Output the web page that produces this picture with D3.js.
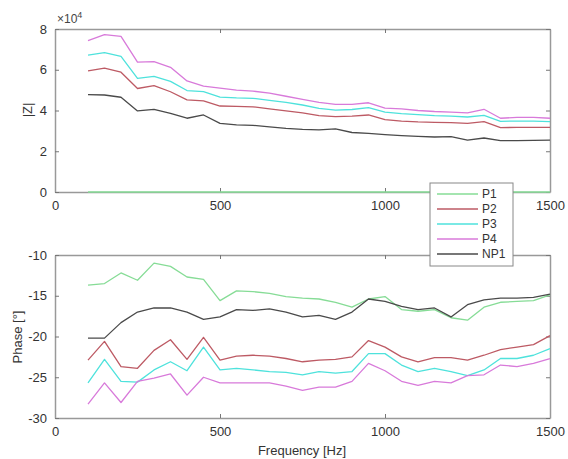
<!DOCTYPE html>
<html lang="en">
<head>
<meta charset="UTF-8">
<title>Impedance and phase</title>
<script src="https://d3js.org/d3.v7.min.js"></script>
<style>
  html, body { margin: 0; padding: 0; background: #fff; }
  svg { display: block; font-family: "Liberation Sans", Arial, sans-serif; }
</style>
</head>
<body>
<svg id="chart" width="568" height="459"></svg>
<script>
// frequency samples [Hz]
const freq = [100,150,200,250,300,350,400,450,500,550,600,650,700,750,800,850,900,950,1000,1050,1100,1150,1200,1250,1300,1350,1400,1450,1500];

// |Z| in units of 1e4
const zP1 = [0,0,0,0,0,0,0,0,0,0,0,0,0,0,0,0,0,0,0,0,0,0,0,0,0,0,0,0,0];
const zP2 = [5.94,6.08,5.88,5.08,5.22,4.92,4.52,4.47,4.22,4.2,4.18,4.08,3.98,3.88,3.75,3.7,3.72,3.78,3.55,3.48,3.44,3.42,3.4,3.37,3.45,3.16,3.17,3.17,3.17];
const zP3 = [6.72,6.84,6.66,5.58,5.67,5.43,4.98,4.93,4.66,4.62,4.6,4.5,4.4,4.27,4.1,4.02,4.05,4.14,3.92,3.85,3.8,3.75,3.72,3.68,3.76,3.47,3.48,3.48,3.45];
const zP4 = [7.43,7.72,7.64,6.37,6.4,6.12,5.45,5.2,5.1,5.0,4.95,4.85,4.7,4.55,4.4,4.3,4.3,4.38,4.12,4.08,4.0,3.95,3.92,3.88,4.06,3.62,3.66,3.66,3.62];
const zNP1 = [4.78,4.76,4.65,3.98,4.06,3.86,3.62,3.78,3.37,3.29,3.27,3.2,3.12,3.07,3.05,3.1,2.92,2.88,2.82,2.77,2.73,2.7,2.72,2.55,2.65,2.52,2.52,2.53,2.55];

// phase [deg]
const phP1 = [-13.7,-13.5,-12.2,-13.1,-11.0,-11.4,-12.7,-13.0,-15.6,-14.4,-14.5,-14.7,-15.1,-15.3,-15.4,-15.8,-16.4,-15.4,-15.1,-16.7,-16.9,-16.7,-17.7,-18.0,-16.4,-15.8,-15.7,-15.6,-14.9];
const phP2 = [-22.9,-20.6,-23.7,-23.9,-21.7,-20.4,-22.8,-20.1,-22.9,-22.4,-22.3,-22.4,-22.7,-23.1,-22.9,-22.8,-22.5,-20.5,-21.3,-22.5,-23.1,-22.6,-22.6,-22.9,-22.3,-21.6,-21.3,-21.0,-19.9];
const phP3 = [-25.7,-22.8,-25.5,-25.6,-24.1,-23.1,-24.2,-21.3,-24.1,-23.9,-24.1,-24.3,-24.4,-24.7,-24.3,-24.5,-24.3,-22.1,-22.1,-23.5,-24.3,-23.9,-24.3,-24.8,-24.1,-22.7,-22.7,-22.3,-21.5];
const phP4 = [-28.3,-25.7,-28.1,-25.5,-25.1,-24.6,-27.2,-25.0,-25.7,-25.7,-25.7,-25.7,-26.1,-26.6,-26.2,-26.2,-25.5,-23.3,-24.2,-25.5,-26.0,-25.5,-25.7,-24.8,-24.7,-23.5,-23.7,-23.3,-22.7];
const phNP1 = [-20.2,-20.2,-18.3,-17.0,-16.5,-16.5,-17.0,-17.9,-17.6,-16.7,-16.8,-16.6,-17.0,-17.6,-17.4,-17.9,-17.0,-15.4,-15.7,-16.3,-16.7,-16.5,-17.6,-16.1,-15.5,-15.3,-15.3,-15.2,-14.8];

const names = ["P1","P2","P3","P4","NP1"];
const colors = ["#86dc96","#bd5a64","#4ee2dc","#d87ada","#4a4a4a"];
const zSeries = [zP1, zP2, zP3, zP4, zNP1];
const phSeries = [phP1, phP2, phP3, phP4, phNP1];

const xTicks = [0, 500, 1000, 1500];
const zTicks = [0, 2, 4, 6, 8];
const phTicks = [-30, -25, -20, -15, -10];

const svg = d3.select("#chart");
const left = 55, right = 550;
const boxColor = "#999";
const plain = d => String(d); // hyphen minus, no thousands separator

const x = d3.scaleLinear().domain([0, 1500]).range([left, right]);
const yZ = d3.scaleLinear().domain([0, 8]).range([192, 29]);
const yPh = d3.scaleLinear().domain([-30, -10]).range([418, 255]);

function panel(y, yTicks, series) {
  const [bottom, top] = y.range();
  const g = svg.append("g");

  // axes with inward ticks on all sides
  const axB = g.append("g").attr("transform", `translate(0,${bottom})`)
    .call(d3.axisBottom(x).tickValues(xTicks).tickSizeInner(-4).tickSizeOuter(0).tickPadding(9).tickFormat(plain));
  const axT = g.append("g").attr("transform", `translate(0,${top})`)
    .call(d3.axisTop(x).tickValues(xTicks).tickSizeInner(-4).tickSizeOuter(0).tickFormat(""));
  const axL = g.append("g").attr("transform", `translate(${left},0)`)
    .call(d3.axisLeft(y).tickValues(yTicks).tickSizeInner(-4).tickSizeOuter(0).tickPadding(8).tickFormat(plain));
  const axR = g.append("g").attr("transform", `translate(${right},0)`)
    .call(d3.axisRight(y).tickValues(yTicks).tickSizeInner(-4).tickSizeOuter(0).tickFormat(""));
  [axB, axT, axL, axR].forEach(a => {
    a.select(".domain").attr("stroke", boxColor).attr("stroke-width", 1.5);
    a.selectAll(".tick line").attr("stroke", "#777");
    a.selectAll(".tick text").attr("font-size", 13).attr("fill", "#333");
  });

  // lines on top of the box so the P1 trace at |Z|=0 stays visible
  const line = d3.line().x((d, i) => x(freq[i])).y(d => y(d));
  series.forEach((s, k) => {
    g.append("path")
      .datum(s)
      .attr("fill", "none")
      .attr("stroke", colors[k])
      .attr("stroke-width", 1.3)
      .attr("stroke-linejoin", "round")
      .attr("d", line);
  });
  return g;
}

panel(yZ, zTicks, zSeries);
panel(yPh, phTicks, phSeries);

// labels
svg.append("text").attr("transform", "translate(32,110) rotate(-90)")
  .attr("text-anchor", "middle").attr("font-size", 13).attr("fill", "#333").text("|Z|");
svg.append("text").attr("transform", "translate(22,337) rotate(-90)")
  .attr("text-anchor", "middle").attr("font-size", 13).attr("fill", "#333").text("Phase [°]");
svg.append("text").attr("x", 302).attr("y", 455)
  .attr("text-anchor", "middle").attr("font-size", 13).attr("fill", "#333").text("Frequency [Hz]");
const ex = svg.append("text").attr("x", 57).attr("y", 23).attr("font-size", 12).attr("fill", "#444");
ex.append("tspan").text("×10");
ex.append("tspan").attr("dy", -5).attr("font-size", 9).text("4");

// legend
const lg = svg.append("g").attr("transform", "translate(430,183)");
lg.append("rect").attr("width", 83).attr("height", 83)
  .attr("fill", "#fff").attr("stroke", "#888").attr("stroke-width", 1);
names.forEach((n, k) => {
  const yy = 11 + k * 15;
  lg.append("line").attr("x1", 7).attr("x2", 48).attr("y1", yy).attr("y2", yy)
    .attr("stroke", colors[k]).attr("stroke-width", 1.3);
  lg.append("text").attr("x", 52).attr("y", yy + 4).attr("font-size", 12)
    .attr("fill", "#333").text(n);
});
</script>
</body>
</html>
